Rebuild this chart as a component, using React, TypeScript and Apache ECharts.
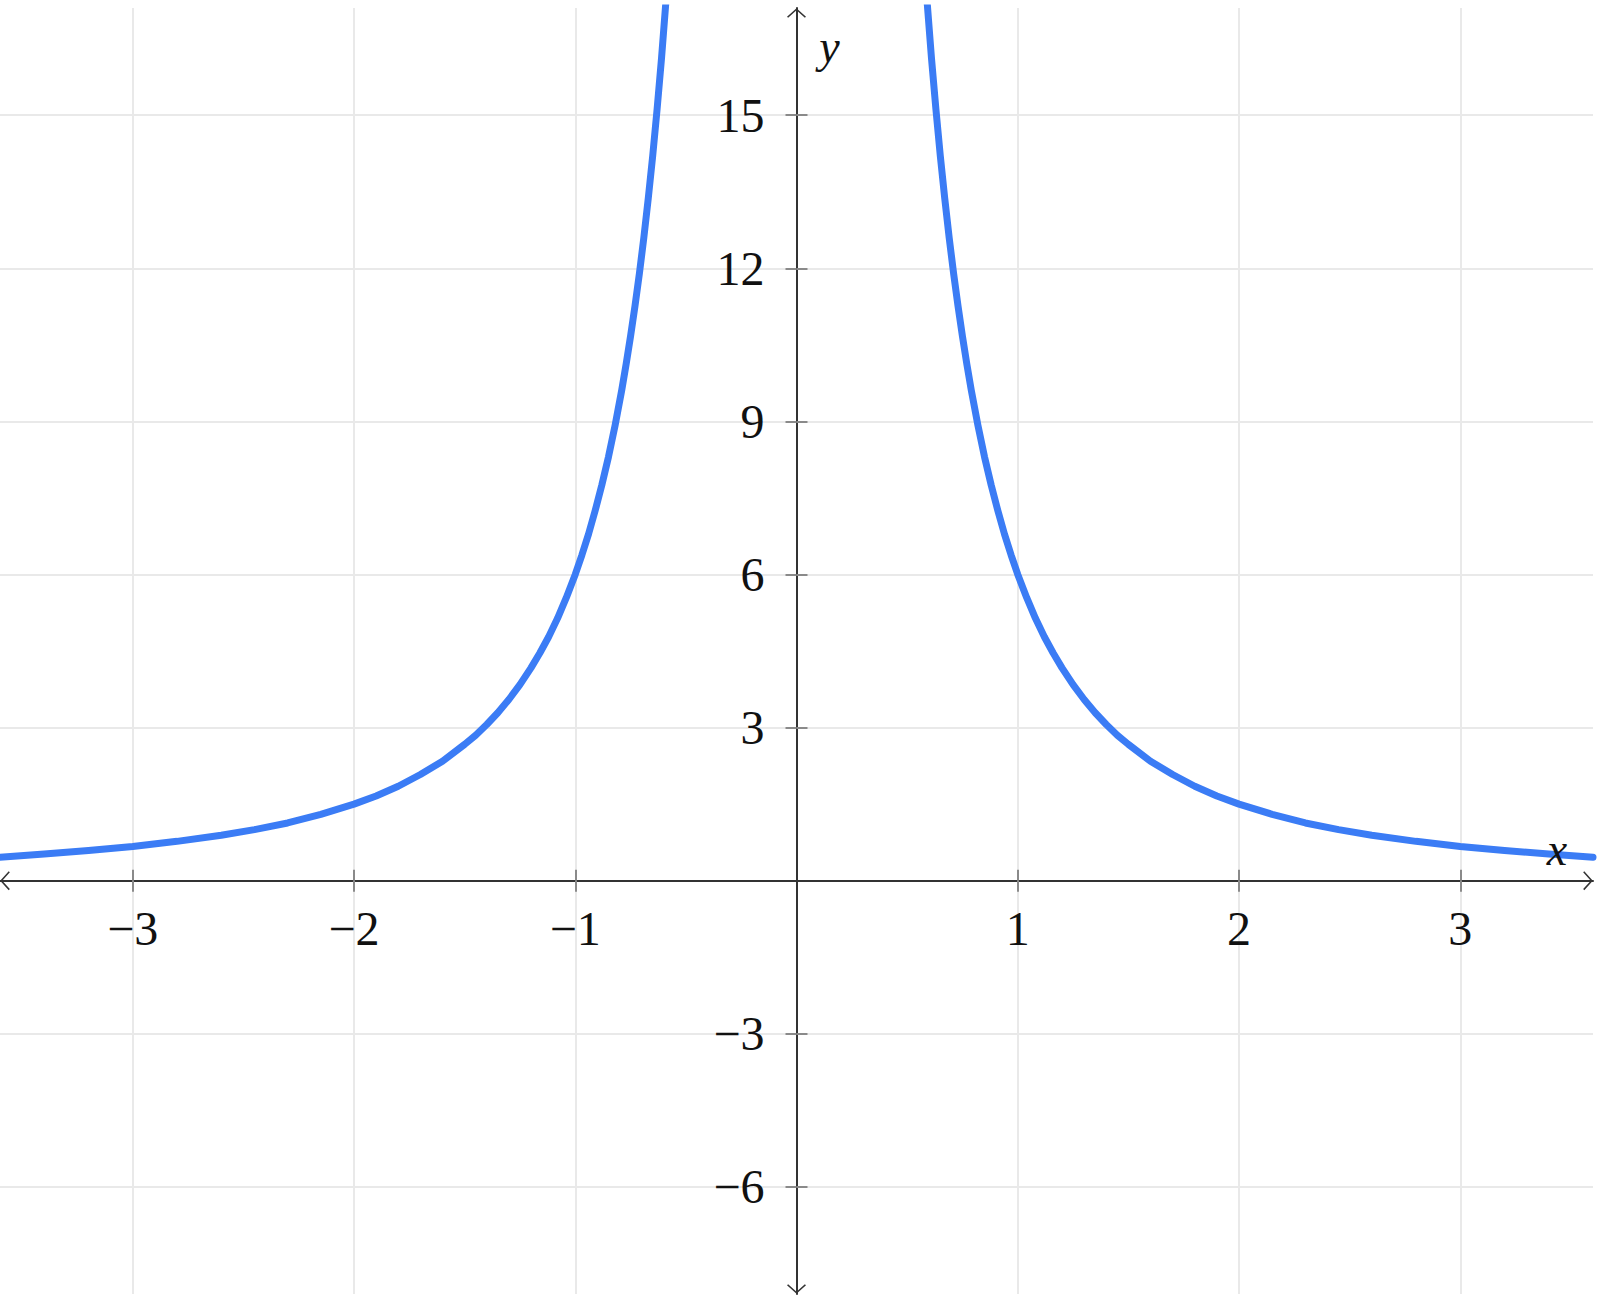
import React, { useEffect, useRef } from "react";
import * as echarts from "echarts";

// Curve: right branch (x > 0)
const rightX = [0.55, 0.57, 0.59, 0.61, 0.63, 0.65, 0.67, 0.69, 0.71, 0.73, 0.75, 0.77, 0.79, 0.82, 0.85, 0.88, 0.91, 0.94, 0.97, 1.0, 1.04, 1.08, 1.12, 1.16, 1.2, 1.25, 1.3, 1.35, 1.4, 1.45, 1.5, 1.6, 1.7, 1.8, 1.9, 2.0, 2.15, 2.3, 2.45, 2.6, 2.8, 3.0, 3.2, 3.4, 3.6];
const rightY = [19.83, 18.47, 17.24, 16.12, 15.12, 14.2, 13.37, 12.6, 11.9, 11.26, 10.67, 10.12, 9.61, 8.92, 8.3, 7.75, 7.25, 6.79, 6.38, 6.0, 5.55, 5.14, 4.78, 4.46, 4.17, 3.84, 3.55, 3.29, 3.06, 2.85, 2.67, 2.34, 2.08, 1.85, 1.66, 1.5, 1.3, 1.13, 1.0, 0.89, 0.77, 0.67, 0.59, 0.52, 0.46];
// Left branch (x < 0)
const leftX = [-3.6, -3.4, -3.2, -3.0, -2.8, -2.6, -2.45, -2.3, -2.15, -2.0, -1.9, -1.8, -1.7, -1.6, -1.5, -1.45, -1.4, -1.35, -1.3, -1.25, -1.2, -1.16, -1.12, -1.08, -1.04, -1.0, -0.97, -0.94, -0.91, -0.88, -0.85, -0.82, -0.79, -0.77, -0.75, -0.73, -0.71, -0.69, -0.67, -0.65, -0.63, -0.61, -0.59, -0.57, -0.55];
const leftY = [0.46, 0.52, 0.59, 0.67, 0.77, 0.89, 1.0, 1.13, 1.3, 1.5, 1.66, 1.85, 2.08, 2.34, 2.67, 2.85, 3.06, 3.29, 3.55, 3.84, 4.17, 4.46, 4.78, 5.14, 5.55, 6.0, 6.38, 6.79, 7.25, 7.75, 8.3, 8.92, 9.61, 10.12, 10.67, 11.26, 11.9, 12.6, 13.37, 14.2, 15.12, 16.12, 17.24, 18.47, 19.83];

const xTicks = [-3, -2, -1, 1, 2, 3];
const xLabels = [-3, -2, -1, 1, 2, 3];
const yTicks = [-6, -3, 3, 6, 9, 12, 15];
const yLabels = [-6, -3, 3, 6, 9, 12, 15];
const xRange = [-3.6, 3.6];
const yRange = [-8.1, 17.1];

const chevron = "path://M0,0 L10,9 L8.8,10.2 L0,2.2 L-8.8,10.2 L-10,9 Z";
const fmt = (v: number) => (v < 0 ? "\u2212" + Math.abs(v) : String(v));

export default function App() {
  const ref = useRef<HTMLDivElement>(null);
  useEffect(() => {
    document.body.style.margin = "0";
    const chart = echarts.init(ref.current!, null, { renderer: "svg" });
    const axisColor = "#333333";
    const gridColor = "#e9e9e9";
    const tickColor = "#8a8a8a";
    const labelFont = { fontFamily: "Liberation Serif", fontSize: 48, color: "#111" };
    const pair = (a: number[], b: number[]) => a.map((v, i) => [v, b[i]]);
    const gridTop = 8;
    const gridBottom = 4;
    const gridLeft = 0;
    chart.setOption({
      animation: false,
      backgroundColor: "#ffffff",
      grid: { left: gridLeft, right: 7, top: gridTop, bottom: gridBottom, containLabel: false, outerBoundsMode: "none" },
      xAxis: [
        {
          type: "value",
          min: xRange[0],
          max: xRange[1],
          position: "bottom",
          axisLine: {
            onZero: false,
            lineStyle: { color: axisColor, width: 2 },
            symbol: [chevron, chevron],
            symbolSize: [19, 10],
            symbolOffset: [5, -5],
          },
          axisTick: { show: true, inside: false, length: 11, customValues: xTicks, lineStyle: { color: tickColor, width: 2 } },
          axisLabel: { customValues: xLabels, formatter: fmt, margin: 48, verticalAlign: "middle", ...labelFont },
          splitLine: { show: true, lineStyle: { color: gridColor, width: 2 } },
        },
        {
          type: "value",
          min: xRange[0],
          max: xRange[1],
          position: "bottom",
          axisLine: { show: false, onZero: false },
          axisTick: { show: true, inside: true, length: 11, customValues: xTicks, lineStyle: { color: tickColor, width: 2 } },
          axisLabel: { show: false },
          splitLine: { show: false },
        },
      ],
      yAxis: [
        {
          type: "value",
          min: yRange[0],
          max: yRange[1],
          position: "left",
          axisLine: {
            onZero: false,
            lineStyle: { color: axisColor, width: 2 },
            symbol: [chevron, chevron],
            symbolSize: [19, 10],
            symbolOffset: [5, -5],
          },
          axisTick: { show: true, inside: false, length: 11, customValues: yTicks, lineStyle: { color: tickColor, width: 2 } },
          axisLabel: { customValues: yLabels, formatter: fmt, margin: 32, ...labelFont },
          splitLine: { show: true, lineStyle: { color: gridColor, width: 2 } },
        },
        {
          type: "value",
          min: yRange[0],
          max: yRange[1],
          position: "left",
          axisLine: { show: false, onZero: false },
          axisTick: { show: true, inside: true, length: 11, customValues: yTicks, lineStyle: { color: tickColor, width: 2 } },
          axisLabel: { show: false },
          splitLine: { show: false },
        },
      ],
      series: [
        {
          type: "line",
          data: pair(leftX, leftY),
          showSymbol: false,
          clip: true,
          lineStyle: { color: "#3b7cf5", width: 7, join: "round", cap: "round" },
          z: 5,
        },
        {
          type: "line",
          data: pair(rightX, rightY),
          showSymbol: false,
          clip: true,
          lineStyle: { color: "#3b7cf5", width: 7, join: "round", cap: "round" },
          z: 5,
        },
      ],
    });
    const origin = chart.convertToPixel({ gridIndex: 0 }, [0, 0]) as number[];
    const xEnd = chart.convertToPixel({ gridIndex: 0 }, [xRange[1], 0]) as number[];
    const yEnd = chart.convertToPixel({ gridIndex: 0 }, [0, yRange[1]]) as number[];
    const bottomEdge = chart.getHeight() - gridBottom;
    const xOff = -(bottomEdge - origin[1]);
    const yOff = -(origin[0] - gridLeft);
    chart.setOption({
      xAxis: [{ offset: xOff }, { offset: xOff }],
      yAxis: [{ offset: yOff }, { offset: yOff }],
      graphic: [
        {
          type: "text",
          x: xEnd[0] - 36,
          y: origin[1] - 31,
          z: 20,
          style: { text: "x", font: "italic 46px 'Liberation Serif'", fill: "#111", align: "center", verticalAlign: "middle" },
        },
        {
          type: "text",
          x: origin[0] + 33,
          y: yEnd[1] + 38,
          z: 20,
          style: { text: "y", font: "italic 46px 'Liberation Serif'", fill: "#111", align: "center", verticalAlign: "middle" },
        },
      ],
    });
    return () => chart.dispose();
  }, []);
  return <div ref={ref} style={{ width: 1600, height: 1298 }} />;
}
